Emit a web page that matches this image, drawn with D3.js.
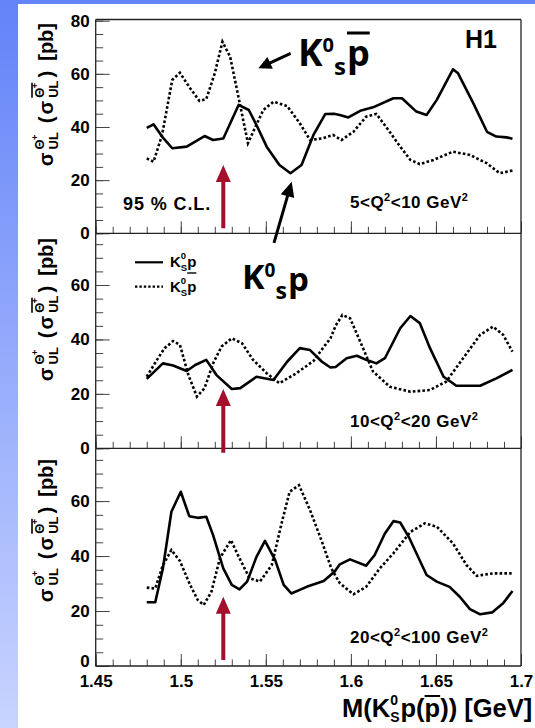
<!DOCTYPE html>
<html>
<head>
<meta charset="utf-8">
<script src="https://cdn.jsdelivr.net/npm/d3@7"></script>
<style>
  html, body { margin: 0; padding: 0; background: #fff; }
  svg { display: block; }
</style>
</head>
<body>
<svg id="chart" width="535" height="728"></svg>
<script>
// ---- data: upper limits on the Theta+ cross section vs. K0s p(pbar) mass ----
const massTicks      = [1.45, 1.5, 1.55, 1.6, 1.65, 1.7];
const massTickLabels = ["1.45", "1.5", "1.55", "1.6", "1.65", "1.7"];
const sigmaTicks     = [0, 20, 40, 60, 80];
const q2Bins         = [["5", "10"], ["10", "20"], ["20", "100"]];
const thetaMass      = 1.525;

// 5 < Q2 < 10 GeV2  [mass GeV, sigma_UL pb]
const q2Low_K0sp = [[1.480,39.7],[1.484,41.0],[1.489,36.4],[1.495,32.0],[1.5035,32.6],[1.514,36.6],[1.519,35.1],[1.525,35.7],[1.534,48.3],[1.540,46.4],[1.545,40.1],[1.5505,32.6],[1.558,25.7],[1.5645,22.6],[1.571,25.7],[1.578,37.0],[1.585,44.9],[1.590,45.0],[1.5935,44.5],[1.5985,43.6],[1.6055,46.1],[1.613,47.4],[1.625,50.8],[1.630,50.8],[1.6385,45.8],[1.6445,44.5],[1.6505,50.2],[1.660,61.7],[1.663,60.2],[1.672,48.9],[1.680,38.2],[1.6855,36.4],[1.6915,36.1],[1.695,35.6]];
const q2Low_K0spbar = [[1.480,28.2],[1.484,26.9],[1.489,37.0],[1.495,57.7],[1.4995,60.4],[1.5055,54.6],[1.511,49.8],[1.515,50.5],[1.520,60.2],[1.5245,72.1],[1.529,66.5],[1.5345,49.5],[1.5395,33.9],[1.5435,39.5],[1.5485,46.4],[1.5545,49.5],[1.5625,47.9],[1.570,41.4],[1.576,35.1],[1.583,35.7],[1.5895,37.0],[1.5945,35.1],[1.6015,38.2],[1.609,43.9],[1.615,44.9],[1.622,38.9],[1.629,32.6],[1.635,27.6],[1.6405,26.0],[1.6485,27.6],[1.660,30.7],[1.670,29.5],[1.680,26.3],[1.6875,22.6],[1.695,23.6]];

// 10 < Q2 < 20 GeV2
const q2Mid_K0sp = [[1.480,25.5],[1.4895,31.2],[1.4955,30.4],[1.5035,28.4],[1.5085,30.6],[1.515,32.5],[1.521,26.9],[1.530,21.8],[1.535,22.1],[1.5445,26.3],[1.5545,25.1],[1.5625,31.8],[1.570,36.8],[1.576,36.1],[1.583,31.8],[1.588,29.7],[1.591,29.9],[1.5975,33.1],[1.6035,34.0],[1.609,32.5],[1.615,31.2],[1.620,33.1],[1.629,44.1],[1.635,48.6],[1.6405,46.0],[1.6465,36.8],[1.6545,26.3],[1.662,23.0],[1.676,23.0],[1.6855,25.7],[1.695,28.8]];
const q2Mid_K0spbar = [[1.480,26.3],[1.486,32.5],[1.4905,36.8],[1.4955,39.4],[1.4995,38.0],[1.5045,26.9],[1.5095,19.0],[1.514,22.1],[1.519,31.2],[1.524,37.4],[1.530,40.4],[1.536,38.6],[1.5425,32.5],[1.5505,27.6],[1.558,23.9],[1.568,27.6],[1.578,32.1],[1.585,38.0],[1.588,40.4],[1.591,45.0],[1.595,49.0],[1.5995,47.8],[1.6055,39.2],[1.613,28.2],[1.623,22.6],[1.635,20.8],[1.6465,21.4],[1.656,24.5],[1.666,33.1],[1.676,41.7],[1.6835,44.7],[1.6895,41.7],[1.695,35.5]];

// 20 < Q2 < 100 GeV2
const q2High_K0sp = [[1.480,23.2],[1.485,23.2],[1.4895,35.5],[1.4945,56.1],[1.500,63.4],[1.505,54.5],[1.510,53.9],[1.515,54.3],[1.519,47.6],[1.525,35.5],[1.530,29.5],[1.5345,27.9],[1.539,30.7],[1.5445,39.7],[1.5495,45.5],[1.5555,38.5],[1.5605,29.5],[1.565,26.4],[1.574,28.8],[1.584,30.9],[1.5905,34.4],[1.5935,37.0],[1.5995,38.8],[1.609,36.5],[1.614,40.4],[1.620,48.2],[1.625,52.7],[1.629,52.2],[1.634,47.0],[1.639,40.4],[1.6445,33.1],[1.6505,30.7],[1.658,28.8],[1.664,25.2],[1.670,20.7],[1.676,18.8],[1.683,19.5],[1.6895,22.8],[1.695,27.3]];
const q2High_K0spbar = [[1.480,28.5],[1.485,28.2],[1.4895,36.7],[1.4945,42.2],[1.4995,38.2],[1.5055,29.5],[1.510,24.0],[1.5135,22.2],[1.518,27.0],[1.523,39.2],[1.5295,45.8],[1.5345,39.2],[1.5405,31.9],[1.5465,30.7],[1.5535,36.7],[1.5595,52.5],[1.564,63.4],[1.5695,65.8],[1.576,56.7],[1.583,45.2],[1.5885,35.5],[1.5935,30.1],[1.6015,26.1],[1.609,28.8],[1.617,35.5],[1.625,41.0],[1.635,48.8],[1.6435,51.9],[1.6505,50.7],[1.660,44.6],[1.668,36.7],[1.674,32.8],[1.6835,33.7],[1.6945,33.7]];

const panelSeries = [
  [q2Low_K0sp,  q2Low_K0spbar],
  [q2Mid_K0sp,  q2Mid_K0spbar],
  [q2High_K0sp, q2High_K0spbar]
];

// ---- layout ----
const FONT = "'Liberation Sans', Arial, Helvetica, sans-serif";
const BIG  = "'Open Sans', 'DejaVu Sans', sans-serif";
const svg = d3.select("#chart");

const defs = svg.append("defs");
const grad = defs.append("linearGradient").attr("id", "bg").attr("x1", 0).attr("y1", 0).attr("x2", 0).attr("y2", 1);
grad.append("stop").attr("offset", "0%").attr("stop-color", "#6383f8");
grad.append("stop").attr("offset", "100%").attr("stop-color", "#c8d4ff");
svg.append("rect").attr("width", 535).attr("height", 728).attr("fill", "url(#bg)");
svg.append("rect").attr("x", 18).attr("y", 4).attr("width", 517).attr("height", 724).attr("fill", "#fff");

const x = d3.scaleLinear().domain([1.45, 1.7]).range([95.7, 521]);
const panels = [
  { frameTop: 19.5,  y: d3.scaleLinear().domain([0, 80]).range([233.3, 20.7]) },
  { frameTop: 233.3, y: d3.scaleLinear().domain([0, 79]).range([448.3, 233.3]) },
  { frameTop: 448.3, y: d3.scaleLinear().domain([0, 79.2]).range([666, 448.3]) }
];

// one text element laid out left to right from pieces; a piece may stack
// a superscript over a subscript and may carry an overline
function richText(parent, items) {
  const g = parent.append("g");
  const text = g.append("text").attr("font-weight", "bold").attr("fill", "#000");
  let cx = 0;
  items.forEach(it => {
    cx += it.gap || 0;
    const parts = it.stack || [it];
    let w = 0;
    parts.forEach(p => {
      const px = cx + (p.dx || 0);
      const t = text.append("tspan").attr("x", px).attr("y", p.dy || 0)
        .attr("font-family", p.f || FONT).attr("font-size", p.s).text(p.t);
      const len = t.node().getComputedTextLength();
      if (p.ov) {
        g.append("line").attr("x1", px + (p.ov.x0 || 0)).attr("x2", px + (p.ov.len || len))
          .attr("y1", p.ov.y).attr("y2", p.ov.y).attr("stroke", "#000").attr("stroke-width", p.ov.w || 1.5);
      }
      w = Math.max(w, (p.dx || 0) + len);
    });
    cx += w;
  });
  g.total = cx;
  return g;
}

function arrowPath(x1, y1, x2, y2, shaftW, headL, headW) {
  const dx = x2 - x1, dy = y2 - y1, L = Math.hypot(dx, dy);
  const ux = dx / L, uy = dy / L, px = -uy, py = ux;
  const bx = x2 - ux * headL, by = y2 - uy * headL, h = shaftW / 2, hw = headW / 2;
  const pts = [[x1 + px*h, y1 + py*h], [bx + px*h, by + py*h], [bx + px*hw, by + py*hw], [x2, y2],
               [bx - px*hw, by - py*hw], [bx - px*h, by - py*h], [x1 - px*h, y1 - py*h]];
  return "M" + pts.map(p => p.join(",")).join("L") + "Z";
}

const titleTops = [23, 238, 459];
const arrowTips = [25.7, 21.8, 25.2];
const arrowBases = [1.9, -1.6, 2.2];

panels.forEach((P, i) => {
  const y = P.y;
  const g = svg.append("g");
  const zero = y(0);

  // y axis: minor and major ticks pointing into the pad
  const vmax = y.domain()[1];
  const minor = d3.range(0, vmax + 0.01, 5);
  const major = sigmaTicks.filter(v => v <= vmax);
  g.append("g").attr("transform", "translate(95.7,0)")
    .call(d3.axisLeft(y).tickValues(minor).tickSizeInner(-7.5).tickSizeOuter(0).tickFormat(""))
    .call(a => a.select(".domain").remove())
    .call(a => a.selectAll("line").attr("stroke", "#444"));
  g.append("g").attr("transform", "translate(95.7,0)")
    .call(d3.axisLeft(y).tickValues(major).tickSizeInner(-14).tickSizeOuter(0).tickPadding(6).tickFormat(d3.format("d")))
    .call(a => a.select(".domain").remove())
    .call(a => a.selectAll("line").attr("stroke", "#444"))
    .call(a => a.selectAll("text").attr("font-family", FONT).attr("font-weight", "bold")
      .attr("font-size", 17).attr("fill", "#000"))
    // the bottom pad's zero label sits a little above its axis line
    .call(a => a.selectAll(".tick").filter(d => d === 0 && i === 2).select("text").attr("dy", "0.05em"));

  // x axis ticks on the pad's bottom edge
  const xMinor = d3.range(0, 26).map(k => +(1.45 + k * 0.01).toFixed(2));
  g.append("g").attr("transform", `translate(0,${zero})`)
    .call(d3.axisBottom(x).tickValues(xMinor).tickSizeInner(-6.5).tickSizeOuter(0).tickFormat(""))
    .call(a => a.select(".domain").remove())
    .call(a => a.selectAll("line").attr("stroke", "#444"));
  g.append("g").attr("transform", `translate(0,${zero})`)
    .call(d3.axisBottom(x).tickValues(massTicks).tickSizeInner(-12).tickSizeOuter(0).tickPadding(9)
      .tickFormat((d, k) => i === 2 ? massTickLabels[k] : ""))
    .call(a => a.select(".domain").remove())
    .call(a => a.selectAll("line").attr("stroke", "#444"))
    .call(a => a.selectAll("text").attr("font-family", FONT).attr("font-weight", "bold")
      .attr("font-size", 17).attr("fill", "#000"));

  // pad frame
  const fr = g.append("g").attr("stroke", "#222").attr("stroke-width", 1.3).attr("fill", "none");
  fr.append("line").attr("x1", 95.7).attr("x2", 521).attr("y1", zero).attr("y2", zero);
  fr.append("line").attr("x1", 95.7).attr("x2", 95.7).attr("y1", P.frameTop).attr("y2", zero);
  fr.append("line").attr("x1", 521).attr("x2", 521).attr("y1", P.frameTop).attr("y2", zero);
  if (i === 0) fr.append("line").attr("x1", 95.7).attr("x2", 521).attr("y1", P.frameTop).attr("y2", P.frameTop);

  // limit curves
  const line = d3.line().x(d => x(d[0])).y(d => y(d[1]));
  g.append("path").datum(panelSeries[i][1]).attr("d", line).attr("fill", "none")
    .attr("stroke", "#000").attr("stroke-width", 2.6).attr("stroke-dasharray", "2.6,2.2");
  g.append("path").datum(panelSeries[i][0]).attr("d", line).attr("fill", "none")
    .attr("stroke", "#000").attr("stroke-width", 2.6).attr("stroke-linejoin", "round");

  // arrow at the Theta+ mass
  svg.append("path").attr("d", arrowPath(x(thetaMass), y(arrowBases[i]), x(thetaMass), y(arrowTips[i]), 4, 17, 15))
    .attr("fill", "#a3102c");

  // Q2 range label
  const lbl = q2Bins[i];
  const qy = [208, 427, 643][i];
  svg.append("text").attr("x", 350).attr("y", qy).attr("font-family", FONT).attr("font-weight", "bold")
    .attr("font-size", 17).attr("letter-spacing", 0.5).attr("fill", "#000")
    .call(t => {
      t.append("tspan").text(lbl[0] + "<Q");
      t.append("tspan").attr("font-size", 11).attr("dy", -7).text("2");
      t.append("tspan").attr("dy", 7).text("<" + lbl[1] + " GeV");
      t.append("tspan").attr("font-size", 11).attr("dy", -7).text("2");
    });

  // y-axis title, read bottom to top, top end aligned near the pad top
  const rot = svg.append("g").attr("transform", `translate(53,${titleTops[i]}) rotate(-90)`);
  const stack = (bar) => ({ gap: 3, stack: [
    { t: "Θ", s: 13, dy: -9, ov: bar ? { y: -21, len: 15, w: 1.6 } : null },
    { t: "+", s: 9, dy: -15, dx: 9.5 },
    { t: "UL", s: 13, dy: 4.5 }
  ]});
  const tt = richText(rot, [
    { t: "σ", s: 20 },
    stack(false),
    { t: "(", s: 20, gap: 9 },
    { t: "σ", s: 20, gap: 2 },
    stack(true),
    { t: ")", s: 20, gap: 3 },
    { t: "[pb]", s: 20, gap: 10 }
  ]);
  tt.attr("transform", `translate(${-tt.total},0)`);
});

// x-axis title
richText(svg.append("g").attr("transform", "translate(342,717)"), [
  { t: "M(K", s: 25.5 },
  { stack: [{ t: "0", s: 14, dy: -12 }, { t: "S", s: 14, dy: 5 }] },
  { t: "p(", s: 25.5, gap: 1 },
  { t: "p", s: 25.5, ov: { y: -21, w: 2 } },
  { t: ")) [GeV]", s: 25.5 }
]);

// H1 tag and confidence level
svg.append("text").attr("x", 465).attr("y", 48).attr("font-family", FONT).attr("font-weight", "bold")
  .attr("font-size", 25).attr("fill", "#000").text("H1");
svg.append("text").attr("x", 123).attr("y", 210).attr("font-family", FONT).attr("font-weight", "bold")
  .attr("font-size", 18).attr("letter-spacing", 0.9).attr("fill", "#000").text("95 % C.L.");

// legend
const lg = svg.append("g");
lg.append("line").attr("x1", 135).attr("x2", 163).attr("y1", 262.3).attr("y2", 262.3)
  .attr("stroke", "#000").attr("stroke-width", 2.2);
lg.append("line").attr("x1", 135).attr("x2", 163).attr("y1", 286.7).attr("y2", 286.7)
  .attr("stroke", "#000").attr("stroke-width", 2.2).attr("stroke-dasharray", "2.4,2");
richText(lg.append("g").attr("transform", "translate(170,267)"), [
  { t: "K", s: 15 },
  { stack: [{ t: "0", s: 9.5, dy: -8 }, { t: "S", s: 9.5, dy: 4 }] },
  { t: "p", s: 15 }
]);
richText(lg.append("g").attr("transform", "translate(170,291.5)"), [
  { t: "K", s: 15 },
  { stack: [{ t: "0", s: 9.5, dy: -8 }, { t: "S", s: 9.5, dy: 4 }] },
  { t: "p", s: 15, ov: { y: -18.5, w: 1.4 } }
]);

// big channel labels with pointer arrows
const y1 = panels[0].y;
richText(svg.append("g").attr("transform", "translate(298,66)"), [
  { t: "K", s: 37, f: BIG },
  { t: "0", s: 20, dy: -14, f: BIG, gap: 0 },
  { t: "s", s: 24, dy: 9, f: BIG, gap: 0 },
  { t: "p", s: 36, f: BIG, gap: 1, ov: { y: -33, w: 3 } }
]);
svg.append("path").attr("d", arrowPath(x(1.5646), y1(67.7), x(1.5456), y1(62.1), 3, 13, 13)).attr("fill", "#000");

richText(svg.append("g").attr("transform", "translate(242,289)"), [
  { t: "K", s: 34, f: BIG },
  { t: "0", s: 19, dy: -12, f: BIG, gap: 0 },
  { t: "s", s: 23, dy: 10, f: BIG, gap: 0 },
  { t: "p", s: 33, dy: 2, f: BIG, gap: 1 }
]);
svg.append("path").attr("d", arrowPath(x(1.5548), y1(-3.6), x(1.5652), y1(19.4), 3, 15, 14)).attr("fill", "#000");
</script>
</body>
</html>
